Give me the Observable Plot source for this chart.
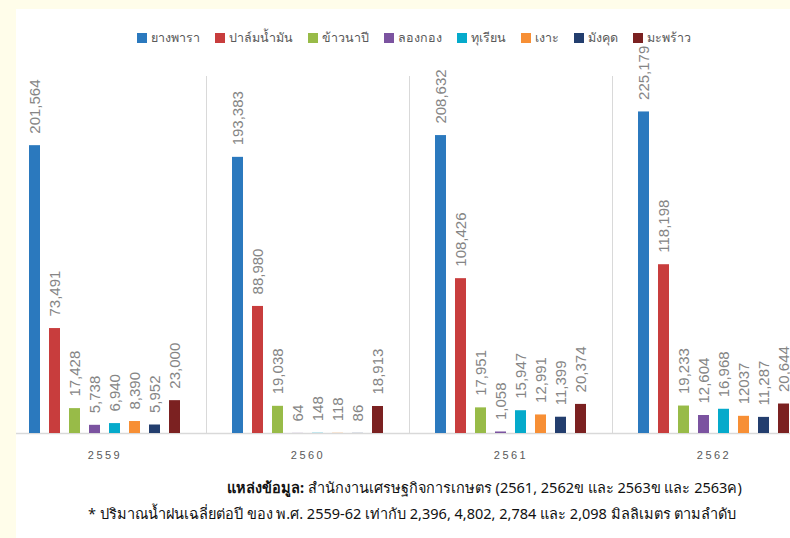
<!DOCTYPE html>
<html>
<head>
<meta charset="utf-8">
<script src="https://cdn.jsdelivr.net/npm/d3@7"></script>
<script src="https://cdn.jsdelivr.net/npm/@observablehq/plot@0.6"></script>
<style>
  html, body { margin: 0; padding: 0; }
  body { width: 790px; height: 538px; overflow: hidden; position: relative; background: #fffdea; font-family: "Noto Sans", "DejaVu Sans", sans-serif; }
  #white { position: absolute; left: 16px; top: 9px; right: 0; bottom: 0; background: #fff; }
  #chart { position: absolute; left: 0; top: 9px; }
  #chart svg { max-width: none; }
  #mask { position: absolute; left: 0; top: 0; width: 16px; height: 538px; background: #fffdea; z-index: 5; }
  #legend { position: absolute; top: 28px; left: 137px; display: flex; align-items: center; z-index: 4; font-size: 12.5px; color: #595959; white-space: nowrap; }
  #legend .item { display: flex; align-items: center; margin-right: 15px; }
  #legend .sw { width: 10px; height: 10px; margin-right: 4px; }
  .cap { position: absolute; font-size: 14.5px; color: #111; white-space: nowrap; z-index: 4; }
  g[aria-label="fx-axis tick label"] text { letter-spacing: 2.5px; }
</style>
</head>
<body>
<div id="white"></div>
<div id="chart"></div>
<div id="legend"></div>
<div class="cap" id="cap1" style="left:227px; top:476px;"><b>แหล่งข้อมูล:</b> สำนักงานเศรษฐกิจการเกษตร (2561, 2562ข และ 2563ข และ 2563ค)</div>
<div class="cap" id="cap2" style="left:88px; top:502px;">* ปริมาณน้ำฝนเฉลี่ยต่อปี ของ พ.ศ. 2559-62 เท่ากับ 2,396, 4,802, 2,784 และ 2,098 มิลลิเมตร ตามลำดับ</div>
<div id="mask"></div>
<script>
const years = ["2559", "2560", "2561", "2562"];
const crops = ["ยางพารา", "ปาล์มน้ำมัน", "ข้าวนาปี", "ลองกอง", "ทุเรียน", "เงาะ", "มังคุด", "มะพร้าว"];
const colors = ["#2b79be", "#c83d3d", "#98bb48", "#7b53a0", "#05aacb", "#f78f35", "#233e6e", "#7b2121"];
const v2559 = [201564, 73491, 17428, 5738, 6940, 8390, 5952, 23000];
const v2560 = [193383, 88980, 19038, 64, 148, 118, 86, 18913];
const v2561 = [208632, 108426, 17951, 1058, 15947, 12991, 11399, 20374];
const v2562 = [225179, 118198, 19233, 12604, 16968, 12037, 11287, 20644];
const noCommaLabels = [12037]; // printed without thousands separator in the source

const series = [v2559, v2560, v2561, v2562];
const fmt = d3.format(",");
const data = [];
years.forEach((yr, i) => {
  crops.forEach((c, j) => {
    const v = series[i][j];
    data.push({year: yr, crop: c, value: v, label: (i === 3 && noCommaLabels.includes(v)) ? String(v) : fmt(v)});
  });
});

// legend
const legend = document.getElementById("legend");
crops.forEach((c, j) => {
  const it = document.createElement("div");
  it.className = "item";
  it.innerHTML = `<span class="sw" style="background:${colors[j]}"></span><span>${c}</span>`;
  legend.appendChild(it);
});

const chart = Plot.plot({
  width: 820,
  height: 469,
  marginLeft: 3,
  marginRight: 5,
  marginTop: 67,
  marginBottom: 45,
  style: {background: "transparent", overflow: "visible"},
  fx: {domain: years, padding: 0, label: null},
  x: {domain: crops, paddingInner: 0.46, paddingOuter: 1.1, axis: null},
  y: {domain: [0, 250000], axis: null},
  color: {domain: crops, range: colors},
  marks: [
    Plot.frame({anchor: "left", stroke: "#d9d9d9"}),
    Plot.ruleY([0], {stroke: "#d9d9d9", strokeWidth: 1.5}),
    Plot.barY(data, {fx: "year", x: "crop", y: "value", fill: "crop"}),
    Plot.text(data, {fx: "year", x: "crop", y: "value", text: "label", rotate: -90, textAnchor: "start", lineAnchor: "middle", dy: -12, fontSize: 15, fill: "#858585", fontFamily: "Liberation Sans, Arial, sans-serif"}),
    Plot.axisFx({anchor: "bottom", tickSize: 0, tickPadding: 18, fontSize: 11, fill: "#595959", label: null, fontFamily: "Liberation Sans, Arial, sans-serif"})
  ]
});
document.getElementById("chart").appendChild(chart);
</script>
</body>
</html>
